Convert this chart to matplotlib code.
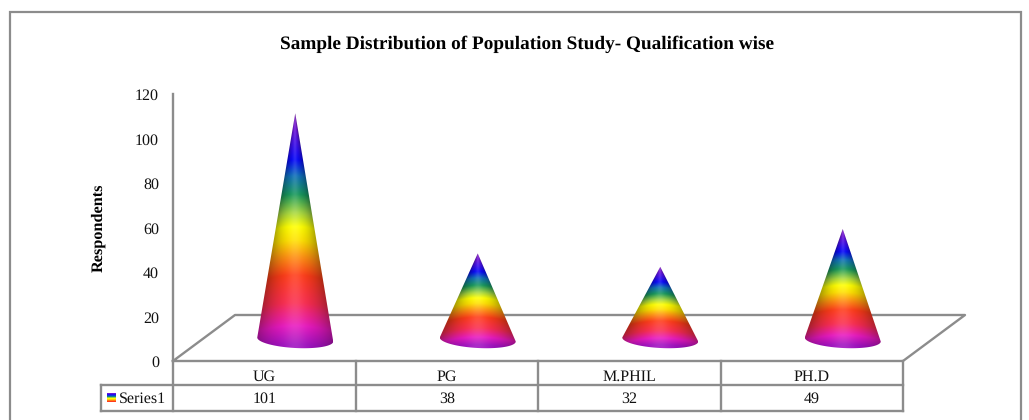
import numpy as np
import matplotlib
matplotlib.use('Agg')
import matplotlib.pyplot as plt
from matplotlib.patches import Polygon, Rectangle

categories = ['UG', 'PG', 'M.PHIL', 'PH.D']
respondents = [101, 38, 32, 49]
y_ticks = [0, 20, 40, 60, 80, 100, 120]
series_name = 'Series1'
title = 'Sample Distribution of Population Study- Qualification wise'
y_label = 'Respondents'

W, H = 1029, 420
GREY = '#8c8c8c'
plt.rcParams['font.family'] = ['Liberation Serif', 'DejaVu Serif']
plt.rcParams['text.hinting'] = 'none'

# colour bands down the cone, 0 = tip, 1 = base
stop_t = [0.0, 0.07, 0.20, 0.27, 0.35, 0.43, 0.49, 0.55, 0.62, 0.70, 0.82, 0.92, 1.0]
stop_c = ['#a040d8', '#7018d8', '#0808f8', '#1070b8', '#18985c', '#a8d840', '#ffff00',
          '#ffe000', '#ff9010', '#ff3c18', '#fa2c50', '#e818c0', '#a010c0']


def rainbow(t):
    rgb = [matplotlib.colors.to_rgb(c) for c in stop_c]
    return np.stack([np.interp(t, stop_t, [c[i] for c in rgb]) for i in range(3)], axis=-1)


fig = plt.figure(figsize=(W / 100, H / 100), dpi=100, facecolor='white')
# plot box in pixels: x 173-903, y 94-361
ax = fig.add_axes([173 / W, 1 - 361 / H, 730 / W, 267 / H])
ax.axis('off')

unit_x = 730 / 4
unit_y = 267 / 120
depth_x = 62 / unit_x
depth_y = 46 / unit_y
line_kw = dict(color=GREY, lw=1.7, clip_on=False, solid_capstyle='projecting')

# frame round the whole chart, bottom edge is cut off by the picture
fig.add_artist(Rectangle((9.5 / W, -5 / H), 1011 / W, (420 - 11.5 + 5) / H,
                         transform=fig.transFigure, fill=False, ec=GREY, lw=1.6))

# wall line and floor
ax.plot([0, 0], [0, 120], **line_kw)
ax.plot([0, depth_x, 4 + depth_x, 4, 0], [0, depth_y, depth_y, 0, 0], **line_kw)

# cones
half_w = 38 / unit_x
half_h = 8.5 / unit_y
tilt = 2 / unit_y
for i, v in enumerate(respondents):
    cx = i + 0.5 + depth_x / 2
    base = depth_y / 2 - 1.5 / unit_y
    tip = depth_y / 2 + v
    bottom = base - half_h - tilt
    xs = np.linspace(cx - half_w, cx + half_w, 160)
    ys = np.linspace(tip, bottom, 300)
    gx, gy = np.meshgrid(xs, ys)
    row_w = np.clip((tip - gy) / (tip - base), 1e-3, 1)
    u = np.clip((gx - cx) / half_w / row_w, -1, 1)
    t = np.clip((tip - gy + 0.6 * half_h * (1 - u ** 2) * row_w) / (tip - bottom), 0, 1)
    shade = 1 - 0.32 * np.abs(u) ** 2.2
    light = 0.12 * np.exp(-(u / 0.28) ** 2)
    img = rainbow(t) * shade[..., None]
    img = img + (1 - img) * light[..., None]
    im = ax.imshow(np.clip(img, 0, 1), extent=[xs[0], xs[-1], bottom, tip], aspect='auto',
                   interpolation='bilinear', zorder=3)
    a = np.linspace(np.pi, 2 * np.pi, 60)
    ex = cx + half_w * np.cos(a)
    ey = base + half_h * np.sin(a) - tilt * np.cos(a)
    pts = np.column_stack([np.r_[cx, ex], np.r_[tip, ey]])
    clip = Polygon(pts, closed=True, transform=ax.transData, fill=False, ec='none')
    ax.add_patch(clip)
    im.set_clip_path(clip)

# y tick labels
for v in y_ticks:
    ax.text(-14 / unit_x, v - 2 / unit_y, str(v), ha='right', va='center', fontsize=11.5, color='#111111')
ax.text(-74.5 / unit_x, 59.7, y_label, rotation=90, ha='center', va='center',
        fontsize=11.7, fontweight='bold', color='black')
fig.text(527 / W, 1 - 44 / H, title, ha='center', va='center', fontsize=13.87,
         fontweight='bold', color='black')

# data table under the plot
row1 = -24 / unit_y
row2 = -50 / unit_y
left = -72 / unit_x
ax.plot([left, 4], [row1, row1], **line_kw)
ax.plot([left, 4], [row2, row2], **line_kw)
ax.plot([left, left], [row1, row2], **line_kw)
for i in range(5):
    ax.plot([i, i], [0, row2], **line_kw)
for i, (c, v) in enumerate(zip(categories, respondents)):
    ax.text(i + 0.5, -16 / unit_y, c, ha='center', va='center', fontsize=11.5, color='#111111')
    ax.text(i + 0.5, -37.5 / unit_y, str(v), ha='center', va='center', fontsize=11.5, color='#111111')
ax.text(-54 / unit_x, -37.5 / unit_y, series_name, ha='left', va='center', fontsize=11.5, color='#111111')

# legend key
key = rainbow(np.linspace(0.05, 0.75, 20))[:, None, :]
ax.imshow(key, extent=[-66 / unit_x, -57 / unit_x, -41 / unit_y, -32 / unit_y], aspect='auto',
          clip_on=False, interpolation='nearest')
ax.set_xlim(0, 4)
ax.set_ylim(0, 120)

fig.savefig('out.png', dpi=100, facecolor='white')
